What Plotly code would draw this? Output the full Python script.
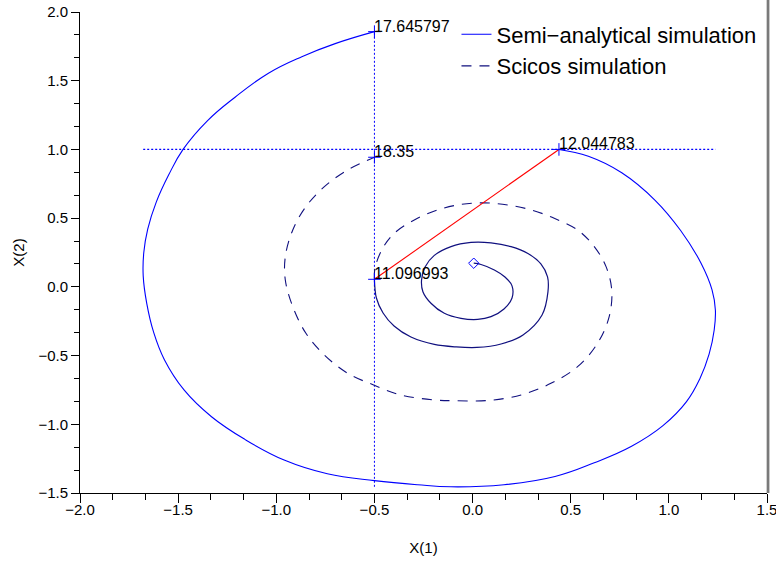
import plotly.graph_objects as go

# ---------------- data ----------------
# common inner spiral (both simulations, before the reset)
inner_x = [0.006, 0.043, 0.111, 0.165, 0.201, 0.201, 0.160, 0.094, 0.026, -0.059,
           -0.144, -0.212, -0.253, -0.260, -0.242, -0.195, -0.110, -0.008, 0.094, 0.196,
           0.282, 0.348, 0.382, 0.384, 0.354, 0.257, 0.145, 0.022, -0.085, -0.195,
           -0.314, -0.400, -0.456, -0.490, -0.500]
inner_y = [0.172, 0.163, 0.123, 0.072, 0.007, -0.081, -0.161, -0.217, -0.237, -0.229,
           -0.192, -0.119, -0.035, 0.050, 0.145, 0.229, 0.293, 0.323, 0.320, 0.293,
           0.243, 0.167, 0.072, -0.037, -0.205, -0.350, -0.416, -0.441, -0.437, -0.419,
           -0.365, -0.285, -0.190, -0.081, 0.055]

# semi-analytical trajectory after the jump (t = 12.044783 .. 17.645797)
semi_x = [0.44, 0.59, 0.76, 0.93, 1.06, 1.164, 1.22, 1.237, 1.231, 1.205,
          1.158, 1.09, 0.97, 0.81, 0.62, 0.42, 0.16, -0.11, -0.28, -0.50,
          -0.74, -0.96, -1.16, -1.33, -1.47, -1.57, -1.625, -1.66, -1.678, -1.675,
          -1.655, -1.612, -1.548, -1.475, -1.35, -1.21, -1.04, -0.87, -0.70, -0.50]
semi_y = [1.0, 0.95, 0.83, 0.63, 0.41, 0.172, -0.022, -0.168, -0.314, -0.490,
          -0.668, -0.835, -1.01, -1.16, -1.28, -1.38, -1.44, -1.455, -1.44, -1.41,
          -1.36, -1.26, -1.11, -0.945, -0.75, -0.53, -0.33, -0.12, 0.08, 0.25,
          0.42, 0.615, 0.815, 1.0, 1.21, 1.38, 1.555, 1.675, 1.77, 1.857]

# Scicos trajectory after t = 11.096993 (no jump)
scicos_x = [-0.500, -0.497, -0.458, -0.399, -0.297, -0.178, -0.059, 0.060, 0.179, 0.298,
            0.416, 0.535, 0.620, 0.680, 0.709, 0.696, 0.637, 0.535, 0.399, 0.247,
            0.077, -0.093, -0.195, -0.365, -0.504, -0.636, -0.755, -0.849, -0.916, -0.954,
            -0.954, -0.916, -0.849, -0.755, -0.636, -0.500]
scicos_y = [0.055, 0.138, 0.281, 0.390, 0.487, 0.560, 0.600, 0.611, 0.596, 0.560,
            0.499, 0.414, 0.293, 0.147, -0.023, -0.217, -0.410, -0.581, -0.702, -0.787,
            -0.827, -0.828, -0.823, -0.787, -0.714, -0.629, -0.496, -0.338, -0.144, 0.050,
            0.220, 0.414, 0.584, 0.729, 0.851, 0.943]

# reset (jump) segment
jump_x = [-0.500, 0.44]
jump_y = [0.055, 1.0]

# marked event times
event_t = ["11.096993", "12.044783", "17.645797", "18.35"]
event_x = [-0.500, 0.44, -0.500, -0.500]
event_y = [0.055, 1.0, 1.857, 0.943]

# start point
start_x = [0.006]
start_y = [0.172]

# guard lines x1 = -0.5 and x2 = 1.0
guard_v_x = [-0.5, -0.5]
guard_v_y = [-1.455, 1.857]
guard_h_x = [-1.678, 1.237]
guard_h_y = [1.0, 1.0]

x_ticks = [-2.0, -1.5, -1.0, -0.5, 0.0, 0.5, 1.0, 1.5]
y_ticks = [-1.5, -1.0, -0.5, 0.0, 0.5, 1.0, 1.5, 2.0]

BLUE = "#0000ff"
NAVY = "#10107f"
FONT = "Liberation Sans, Arial, Helvetica, sans-serif"

fig = go.Figure()

fig.add_trace(go.Scatter(x=guard_v_x, y=guard_v_y, mode="lines", showlegend=False,
                         line=dict(color=BLUE, width=1, dash="2px,2px"), hoverinfo="skip"))
fig.add_trace(go.Scatter(x=guard_h_x, y=guard_h_y, mode="lines", showlegend=False,
                         line=dict(color=BLUE, width=1.3, dash="2px,2px"), hoverinfo="skip"))

fig.add_trace(go.Scatter(x=semi_x, y=semi_y, mode="lines", name="Semi\u2212analytical simulation",
                         line=dict(color=BLUE, width=1.1, shape="spline", smoothing=1.2)))
fig.add_trace(go.Scatter(x=scicos_x, y=scicos_y, mode="lines", name="Scicos simulation",
                         line=dict(color=NAVY, width=1.1, dash="10px,8px", shape="spline")))
fig.add_trace(go.Scatter(x=inner_x, y=inner_y, mode="lines", showlegend=False,
                         line=dict(color=NAVY, width=1.2, shape="spline")))
fig.add_trace(go.Scatter(x=jump_x, y=jump_y, mode="lines", showlegend=False,
                         line=dict(color="#ff0000", width=1.1)))
fig.add_trace(go.Scatter(x=event_x, y=event_y, mode="markers", showlegend=False,
                         marker=dict(symbol="cross-thin-open", size=9, color=BLUE,
                                     line=dict(color=BLUE, width=1))))
fig.add_trace(go.Scatter(x=start_x, y=start_y, mode="markers", showlegend=False,
                         marker=dict(symbol="diamond-open", size=8, color=BLUE,
                                     line=dict(color=BLUE, width=1))))

for t, x, y in zip(event_t, event_x, event_y):
    fig.add_annotation(x=x, y=y, text=t, showarrow=False, xanchor="left", yanchor="bottom",
                       xshift=-2, yshift=-5, font=dict(family=FONT, size=16, color="black"))

axis_common = dict(showline=True, linecolor="black", linewidth=1, ticks="outside",
                   tickcolor="black", tickwidth=1, showgrid=False, zeroline=False,
                   tickformat=".1f", tickfont=dict(family=FONT, size=15, color="black"),
                   mirror=False, ticklabeloverflow="allow")

fig.update_xaxes(range=[-2.0, 1.5], tickvals=x_ticks, ticklen=9, ticklabelstandoff=-6,
                 minor=dict(dtick=0.5 / 3, tick0=-2.0, ticklen=6, ticks="outside",
                            tickcolor="black", showgrid=False),
                 title=dict(text="X(1)", standoff=25, font=dict(family=FONT, size=15, color="black")),
                 **axis_common)
fig.update_yaxes(range=[-1.5, 2.0], tickvals=y_ticks, ticklen=8,
                 minor=dict(dtick=0.5 / 3, tick0=-1.5, ticklen=5, ticks="outside",
                            tickcolor="black", showgrid=False),
                 title=dict(text="X(2)", standoff=10, font=dict(family=FONT, size=15, color="black")),
                 **axis_common)

# grey frame edge on the right-hand side of the figure
fig.add_shape(type="rect", xref="paper", yref="paper", x0=0.9995, x1=1.0035, y0=0,
              y1=1.025, layer="above", fillcolor="#7a7a7a", line=dict(width=0))

fig.update_layout(
    width=776, height=563,
    margin=dict(l=80, r=9, t=12, b=70, autoexpand=False),
    paper_bgcolor="white", plot_bgcolor="white",
    font=dict(family=FONT, color="black"),
    legend=dict(x=0.548, y=0.997, xanchor="left", yanchor="top",
                bgcolor="rgba(0,0,0,0)", font=dict(family=FONT, size=22, color="black"),
                itemwidth=30, tracegroupgap=0),
)

fig.write_html("out.html", config={"displayModeBar": False},
               post_script="document.body.style.margin='0px';")
